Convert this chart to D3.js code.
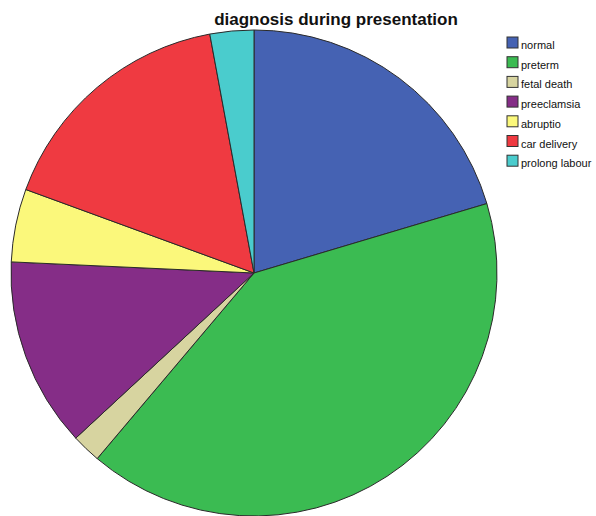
<!DOCTYPE html>
<html>
<head>
<meta charset="utf-8">
<script src="https://cdn.jsdelivr.net/npm/d3@7"></script>
<style>
  body { margin: 0; background: #fff; }
  svg { display: block; font-family: "Liberation Sans", Arial, sans-serif; }
</style>
</head>
<body>
<div id="chart"></div>
<script>
// data
var categories = ["normal", "preterm", "fetal death", "preeclamsia", "abruptio", "car delivery", "prolong labour"];
var counts = [21, 42, 2, 13, 5, 17, 3];
var colors = ["#4562b3", "#3bbb52", "#d7d4a0", "#852d87", "#fbf87b", "#ef3a41", "#4acccd"];

var width = 596, height = 516;
var cx = 254, cy = 273, radius = 243;

var svg = d3.select("#chart").append("svg")
    .attr("width", width)
    .attr("height", height);

// title
svg.append("text")
    .attr("x", 336)
    .attr("y", 25)
    .attr("text-anchor", "middle")
    .attr("font-size", "17px")
    .attr("font-weight", "bold")
    .attr("fill", "#111")
    .text("diagnosis during presentation");

var data = categories.map(function(c, i) { return { name: c, value: counts[i] }; });
var color = d3.scaleOrdinal().domain(categories).range(colors);

var pie = d3.pie()
    .value(function(d) { return d.value; })
    .sort(null);

var arc = d3.arc()
    .outerRadius(radius)
    .innerRadius(0);

var g = svg.append("g").attr("transform", "translate(" + cx + "," + cy + ")");

g.selectAll(".slice")
    .data(pie(data))
    .enter()
    .append("path")
    .attr("class", "slice")
    .attr("d", arc)
    .attr("fill", function(d) { return color(d.data.name); })
    .attr("stroke", "#2a2a2a")
    .attr("stroke-width", 1);

// legend
var legend = svg.append("g").attr("transform", "translate(507,37)");
var rowH = 19.7;

var item = legend.selectAll(".item")
    .data(categories)
    .enter()
    .append("g")
    .attr("class", "item")
    .attr("transform", function(d, i) { return "translate(0," + (i * rowH) + ")"; });

item.append("rect")
    .attr("width", 11)
    .attr("height", 11)
    .attr("fill", function(d) { return color(d); })
    .attr("stroke", "#333")
    .attr("stroke-width", 1);

item.append("text")
    .attr("x", 14)
    .attr("y", 12)
    .attr("font-size", "11px")
    .attr("fill", "#111")
    .text(function(d) { return d; });
</script>
</body>
</html>
